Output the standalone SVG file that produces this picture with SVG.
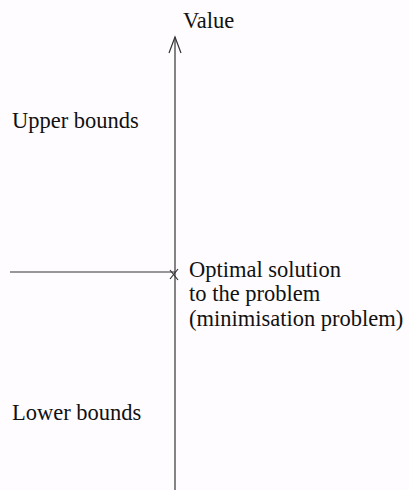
<svg xmlns="http://www.w3.org/2000/svg" width="409" height="490" viewBox="0 0 409 490">
<style>
.ln{stroke:#333;stroke-width:1.2;fill:none}
</style>
<rect width="409" height="490" fill="#fefcff"/>
<g id="connectors">
<path class="ln" d="M175,490 V37"/>
<path class="ln" d="M169,53 L175,37 L181,53"/>
<path class="ln" d="M10,272 H175"/>
<path class="ln" d="M170,270 L178,280 M178,269 L170,279"/>
</g>
<g id="value"><text x="183" y="28" font-family="Liberation Serif" font-size="22.5" fill="#111">Value</text></g>
<g id="upper"><text x="12" y="128" font-family="Liberation Serif" font-size="22.5" fill="#111">Upper bounds</text></g>
<g id="lower"><text x="12" y="420" font-family="Liberation Serif" font-size="22.5" fill="#111">Lower bounds</text></g>
<g id="optimal"><text x="189" y="277" font-family="Liberation Serif" font-size="22.5" fill="#111">Optimal solution</text><text x="189" y="301" font-family="Liberation Serif" font-size="22.5" fill="#111">to the problem</text><text x="189" y="326" font-family="Liberation Serif" font-size="22.5" fill="#111">(minimisation problem)</text></g>
</svg>
